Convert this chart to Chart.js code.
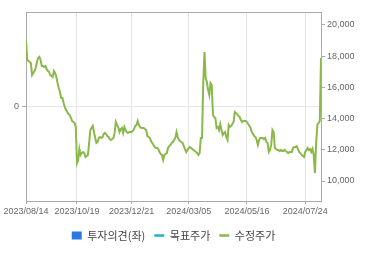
<!DOCTYPE html>
<html><head><meta charset="utf-8">
<script src="https://cdn.jsdelivr.net/npm/chart.js@4/dist/chart.umd.min.js"></script>
<style>html,body{margin:0;padding:0;background:#fff;}#wrap{width:370px;height:255px;position:relative;}</style>
</head><body><div id="wrap"><canvas id="c"></canvas></div>
<script>
// trading-day index of each labelled date
const tickIndex = [0, 42, 87, 134, 182, 230];
const tickLabels = ['2023/08/14', '2023/10/19', '2023/12/21', '2024/03/05', '2024/05/16', '2024/07/24'];
const priceTicks = [10000, 12000, 14000, 16000, 18000, 20000];
const seriesNames = ['투자의견(좌)', '목표주가', '수정주가'];
// adjusted close (수정주가), one value per trading day
const adjPrice = [
19040,17760,17690,17630,17560,16790,16920,17050,17240,17630,
17880,17950,17760,17370,17370,17310,17370,17180,17050,16990,
16790,16730,16670,17050,16920,16670,16280,15960,15700,15320,
15320,15000,14740,14550,14420,14290,14230,14040,13850,13780,
13720,13460,11150,11350,12050,11670,11790,11860,11790,11540,
11600,11670,12440,13270,13400,13530,13140,12760,12440,12500,
12760,12820,12760,12820,13010,13080,13010,12880,12820,12690,
12630,12690,12760,13080,13780,13590,13460,13140,13330,13400,
13080,13460,13270,13140,13080,13140,13140,13140,13210,13330,
13530,13590,13850,13590,13460,13400,13400,13400,13330,13270,
12880,12820,12760,12560,12440,12310,12180,12120,12120,12050,
11860,11730,11670,11350,11670,11730,11790,12120,12240,12310,
12440,12500,12630,12760,13140,12820,12630,12560,12500,12440,
12240,12050,11860,11990,12120,12180,12120,12050,11990,11920,
11860,11790,11670,11790,12760,12760,16280,18270,16600,16350,
15830,15510,16280,16150,14230,14100,14040,13400,13460,13270,
13650,13270,12950,13080,13140,12820,12630,13590,13460,13530,
13650,13780,14420,14360,14290,14170,14100,13910,13780,13850,
13850,13850,13780,13650,13530,13400,13140,13010,12880,12820,
12630,12310,12630,12760,12760,12760,12690,12760,12500,12440,
11860,11990,12310,13270,13140,12120,12050,11990,11990,11920,
11990,11920,11920,11990,11920,11860,11790,11860,11860,11860,
12120,12180,12180,12240,12050,11860,11790,11670,11600,11540,
11860,11990,12120,11990,12050,11860,12050,11670,10510,12440,
13590,13720,13850,17880
];
const opinion = [];   // 투자의견: no data in range
const target = [];    // 목표주가: no data in range

const colors = { opinion: '#2a78e0', target: '#1fb0c4', price: '#8ab84a', axis: '#aaaaaa', grid: '#e6e6e6', text: '#666666' };
const lblFont = { family: '"Liberation Sans", Arial, sans-serif', size: 9 };

new Chart(document.getElementById('c'), {
  type: 'line',
  data: {
    datasets: [
      { type: 'bar', label: seriesNames[0], data: opinion, backgroundColor: colors.opinion, yAxisID: 'y1', xAxisID: 'x' },
      { label: seriesNames[1], data: target, borderColor: colors.target, borderWidth: 2, pointRadius: 0, yAxisID: 'y', xAxisID: 'x' },
      { label: seriesNames[2], data: adjPrice.map((v, i) => ({ x: i, y: v })), borderColor: colors.price, borderWidth: 2, pointRadius: 0, tension: 0, yAxisID: 'y', xAxisID: 'x' }
    ]
  },
  options: {
    responsive: true, maintainAspectRatio: false, animation: false,
    layout: { padding: { top: 12, left: 0, right: 0, bottom: 4 } },
    plugins: {
      tooltip: { enabled: false },
      legend: {
        position: 'bottom', fullSize: false, maxHeight: 34,
        labels: {
          usePointStyle: true, boxHeight: 8, pointStyleWidth: 10, padding: 9,
          font: { family: '"Noto Sans CJK KR", sans-serif', size: 11 }, color: '#444',
          generateLabels: (chart) => [
            { text: seriesNames[0], fillStyle: colors.opinion, strokeStyle: colors.opinion, lineWidth: 0, pointStyle: 'rect', datasetIndex: 0, hidden: false, fontColor: '#444' },
            { text: seriesNames[1], fillStyle: colors.target, strokeStyle: colors.target, lineWidth: 2.5, pointStyle: 'line', datasetIndex: 1, hidden: false, fontColor: '#444' },
            { text: seriesNames[2], fillStyle: colors.price, strokeStyle: colors.price, lineWidth: 2.5, pointStyle: 'line', datasetIndex: 2, hidden: false, fontColor: '#444' }
          ]
        }
      }
    },
    scales: {
      x: {
        type: 'linear', position: 'bottom', min: 0, max: adjPrice.length - 1, offset: false,
        afterBuildTicks: (s) => { s.ticks = tickIndex.map(v => ({ value: v })); },
        afterFit: (s) => { s.height = 20; },
        ticks: { autoSkip: false, maxRotation: 0, padding: 2, color: colors.text, font: lblFont,
                 callback: (v) => tickLabels[tickIndex.indexOf(v)] },
        grid: { color: colors.grid, tickColor: colors.axis, tickLength: 3, offset: false },
        border: { color: colors.axis }
      },
      xTop: {
        type: 'linear', position: 'top', min: 0, max: adjPrice.length - 1, display: true, offset: false,
        afterFit: (s) => { s.height = 0; },
        ticks: { display: false },
        grid: { display: false, drawTicks: false },
        border: { display: true, color: colors.axis }
      },
      y1: {
        position: 'left', min: -1, max: 1,
        afterBuildTicks: (s) => { s.ticks = [{ value: 0 }]; },
        afterFit: (s) => { s.width = 26; },
        ticks: { color: colors.text, font: lblFont, padding: 3 },
        grid: { color: colors.grid, tickColor: colors.axis, tickLength: 4 },
        border: { color: colors.axis }
      },
      y: {
        position: 'right', min: 8718, max: 20833,
        afterBuildTicks: (s) => { s.ticks = priceTicks.map(v => ({ value: v })); },
        afterFit: (s) => { s.width = 49; },
        ticks: { color: colors.text, font: lblFont, padding: 2, callback: (v) => v.toLocaleString('en-US') },
        grid: { drawOnChartArea: false, tickColor: colors.axis, tickLength: 4 },
        border: { color: colors.axis }
      }
    }
  }
});
</script></body></html>
